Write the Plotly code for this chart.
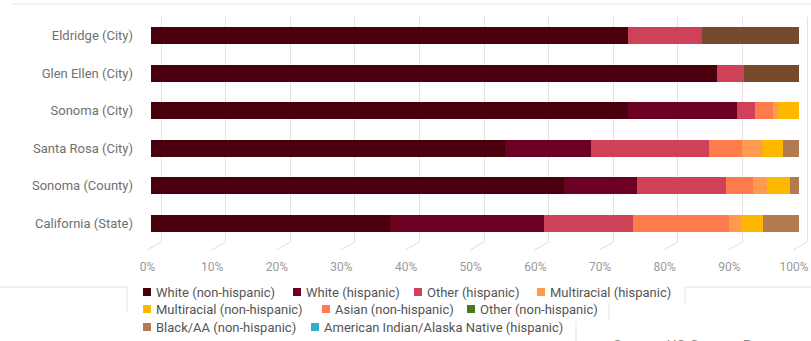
import plotly.graph_objects as go

# ---------------- data ----------------
places = ["Eldridge (City)", "Glen Ellen (City)", "Sonoma (City)",
          "Santa Rosa (City)", "Sonoma (County)", "California (State)"]

white_nh   = [73.6, 87.3, 73.6, 54.6, 63.7, 36.9]
white_h    = [0.0,  0.0,  16.8, 13.3, 11.3, 23.7]
other_h    = [11.4, 4.2,  2.8,  18.2, 13.7, 13.8]
asian_nh   = [0.0,  0.0,  2.8,  5.1,  4.2,  14.8]
multi_h    = [0.0,  0.0,  0.8,  3.1,  2.2,  2.0]
multi_nh   = [0.0,  0.0,  3.2,  3.2,  3.5,  3.2]
other_nh   = [0.0,  0.0,  0.0,  0.0,  0.0,  0.0]
black_nh   = [0.0,  0.0,  0.0,  2.5,  1.4,  5.6]
amind_h    = [0.0,  0.0,  0.0,  0.0,  0.0,  0.0]
unlisted   = [15.0, 8.5,  0.0,  0.0,  0.0,  0.0]

tick_vals = [0, 10, 20, 30, 40, 50, 60, 70, 80, 90, 100]
tick_text = ["0%", "10%", "20%", "30%", "40%", "50%", "60%", "70%", "80%", "90%", "100%"]

series = [
    ("White (non-hispanic)", white_nh, "#4a000c"),
    ("White (hispanic)", white_h, "#6c0022"),
    ("Other (hispanic)", other_h, "#cf4159"),
    ("Asian (non-hispanic)", asian_nh, "#ff7b4b"),
    ("Multiracial (hispanic)", multi_h, "#ff9a50"),
    ("Multiracial (non-hispanic)", multi_nh, "#ffb800"),
    ("Other (non-hispanic)", other_nh, "#4d7624"),
    ("Black/AA (non-hispanic)", black_nh, "#b37a52"),
    ("American Indian/Alaska Native (hispanic)", amind_h, "#37adc9"),
    ("Unlisted", unlisted, "#774a2d"),
]
colors = {n: c for n, _, c in series}

legend_rows = [
    ["White (non-hispanic)", "White (hispanic)", "Other (hispanic)", "Multiracial (hispanic)"],
    ["Multiracial (non-hispanic)", "Asian (non-hispanic)", "Other (non-hispanic)"],
    ["Black/AA (non-hispanic)", "American Indian/Alaska Native (hispanic)"],
]
legend_x = [[143, 293, 414, 537], [143, 322, 467], [143, 311]]
legend_y = [292, 309, 327]

# ---------------- figure ----------------
W, H = 811, 341
ML, MR, MT, MB = 146, 1, 17, 99
PW, PH = W - ML - MR, H - MT - MB

def px(x):
    return (x - ML) / PW

def py(y):
    return (H - MB - y) / PH

FONT = "Roboto, 'DejaVu Sans', sans-serif"

fig = go.Figure()
for name, vals, col in series:
    fig.add_trace(go.Bar(
        y=places, x=vals, orientation="h", name=name,
        marker=dict(color=col, line=dict(width=0)),
        showlegend=False, hovertemplate="%{y}: %{x}%<extra>" + name + "</extra>",
    ))

# invisible traces to anchor the helper axes
fig.add_trace(go.Scatter(x=[50], y=[places[0]], xaxis="x2", mode="markers",
                         marker=dict(opacity=0), showlegend=False, hoverinfo="skip"))
fig.add_trace(go.Scatter(x=[50], y=[places[0]], xaxis="x3", mode="markers",
                         marker=dict(opacity=0), showlegend=False, hoverinfo="skip"))

bar_ppu = 6.48
grid_ppu = 6.46
lab_ppu = 6.465

fig.update_layout(
    width=W, height=H,
    margin=dict(l=ML, r=MR, t=MT, b=MB),
    paper_bgcolor="white", plot_bgcolor="white",
    barmode="stack", bargap=0.547,
    showlegend=False,
    font=dict(family=FONT, color="#666"),
    xaxis=dict(range=[-5 / bar_ppu, -5 / bar_ppu + PW / bar_ppu],
               showgrid=False, showticklabels=False, zeroline=False, showline=False),
    xaxis2=dict(overlaying="x", anchor="y", range=[-15 / grid_ppu, -15 / grid_ppu + PW / grid_ppu],
                tickvals=tick_vals, showticklabels=False, showgrid=True,
                gridcolor="#e2e2e2", gridwidth=1, zeroline=False, showline=False),
    xaxis3=dict(overlaying="x", anchor="y", side="bottom",
                range=[-1.5 / lab_ppu, -1.5 / lab_ppu + PW / lab_ppu],
                tickvals=tick_vals, ticktext=tick_text, showgrid=False, zeroline=False,
                showline=False, ticks="", ticklabelstandoff=16,
                tickfont=dict(size=12, color="#9a9a9a", family=FONT)),
    yaxis=dict(categoryorder="array", categoryarray=places, autorange="reversed",
               showgrid=False, zeroline=False, showline=False, ticks="",
               ticklabelstandoff=12, tickfont=dict(size=13, color="#707070", family=FONT)),
)

shapes = []
# diagonal tick connectors under gridlines
for v in tick_vals:
    shapes.append(dict(type="line", xref="x2", yref="paper",
                       x0=v, x1=v - 14 / grid_ppu, y0=0, y1=py(H - MB + 8),
                       line=dict(color="#dddddd", width=1)))
# panel border lines
line_style = dict(color="#e3e3e3", width=1)
for (x0, y0, x1, y1) in [(12, 4, 811, 4), (0, 287, 127, 287), (127, 287, 127, 313),
                         (685, 287, 811, 287), (685, 287, 685, 305),
                         (609, 303, 609, 321), (576, 322, 576, 341)]:
    shapes.append(dict(type="line", xref="paper", yref="paper",
                       x0=px(x0), x1=px(x1), y0=py(y0), y1=py(y1), line=line_style))

annotations = []
for row, xs, yc in zip(legend_rows, legend_x, legend_y):
    for name, xs0 in zip(row, xs):
        shapes.append(dict(type="rect", xref="paper", yref="paper",
                           x0=px(xs0), x1=px(xs0 + 8), y0=py(yc + 4), y1=py(yc - 4),
                           fillcolor=colors[name], line=dict(width=0)))
        annotations.append(dict(text=name, xref="paper", yref="paper",
                                x=px(xs0 + 11), y=py(yc), xanchor="left", yanchor="middle",
                                showarrow=False, font=dict(size=13, color="#555", family=FONT)))

annotations.append(dict(text="Source: US Census Bureau", xref="paper", yref="paper",
                        x=px(611), y=py(335), xanchor="left", yanchor="top", showarrow=False,
                        font=dict(size=15, color="#888", family=FONT)))

fig.update_layout(shapes=shapes, annotations=annotations)

fig.write_html("out.html")
